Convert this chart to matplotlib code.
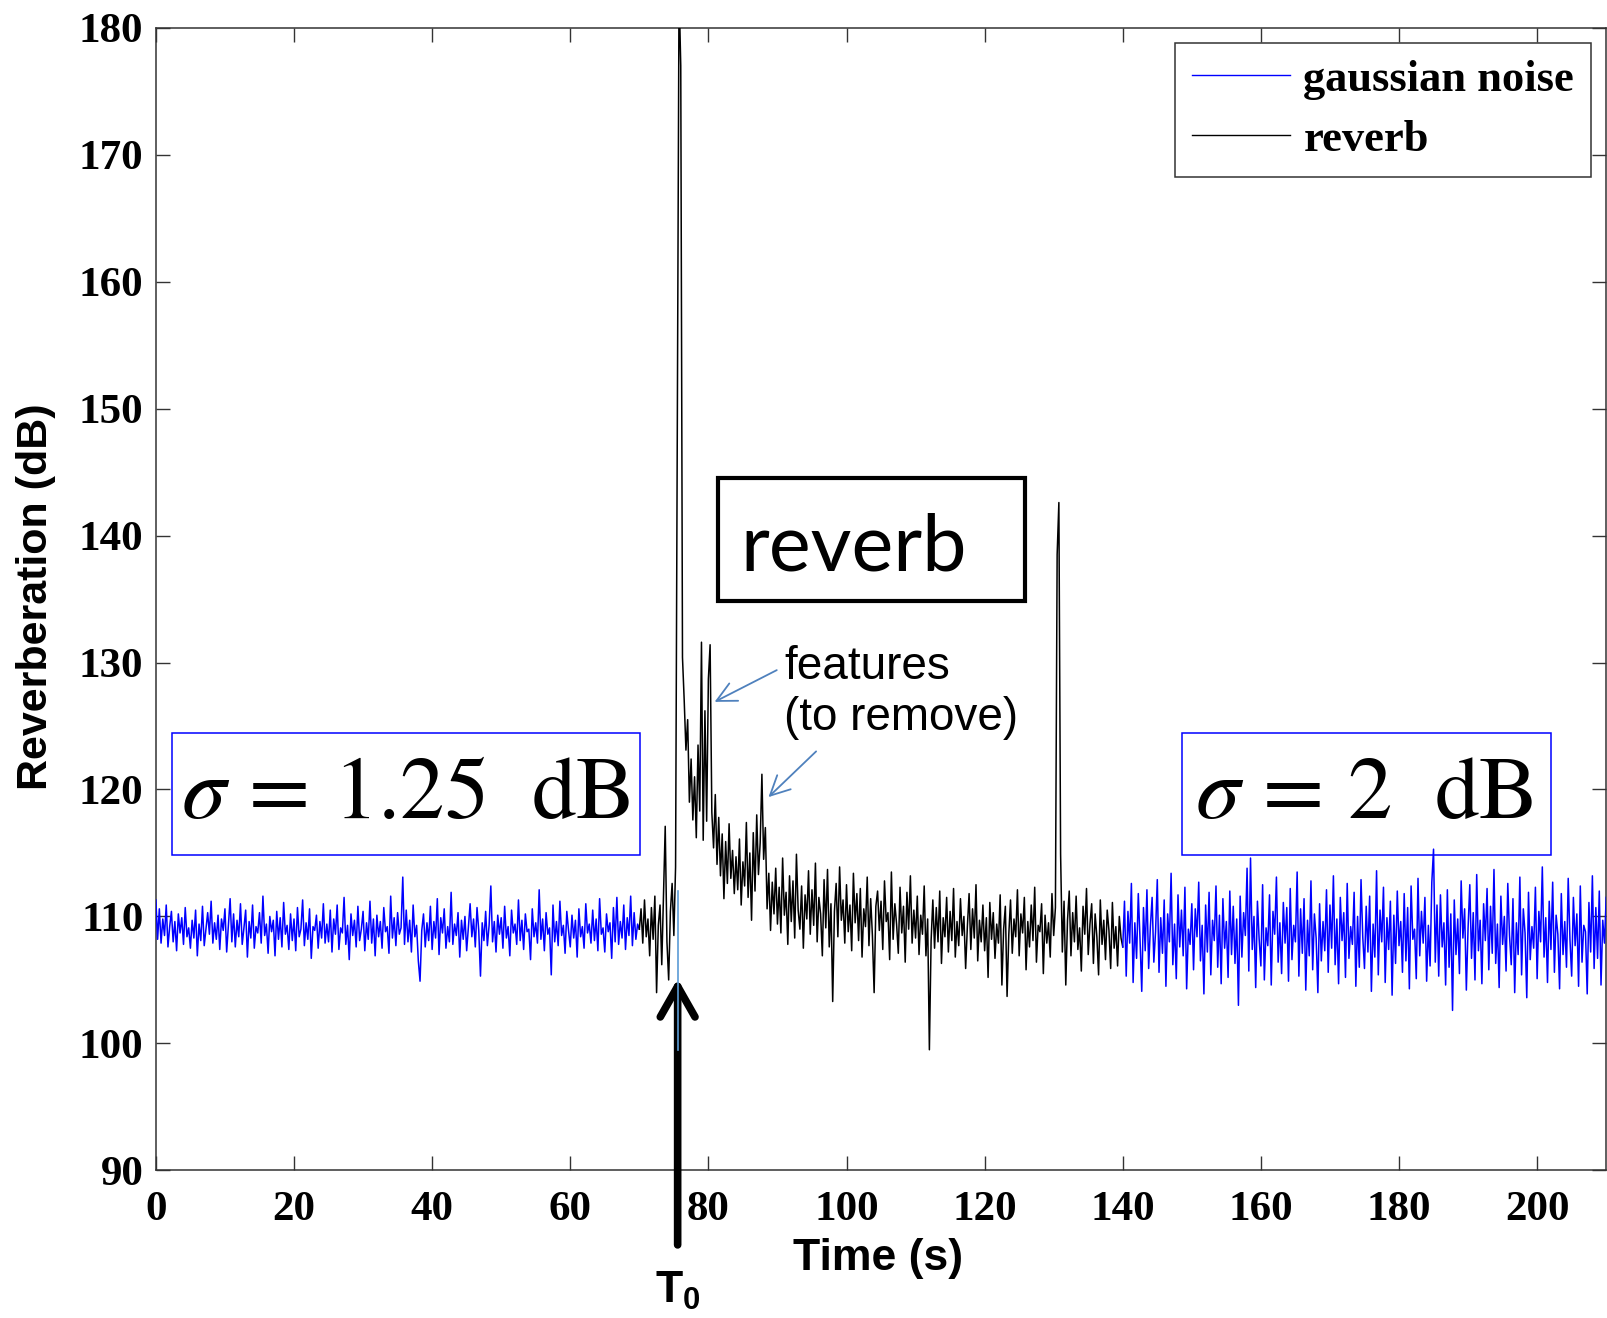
import numpy as np
import matplotlib
matplotlib.use('Agg')
import matplotlib.pyplot as plt
from matplotlib.patches import Rectangle

plt.rcParams['font.family'] = 'Liberation Serif'
plt.rcParams['mathtext.fontset'] = 'custom'
plt.rcParams['mathtext.rm'] = 'Liberation Sans'
plt.rcParams['mathtext.bf'] = 'Liberation Sans:bold'

# sampling step of the traces (s) and segment start times
step = 0.25
start_left = 0.0
start_reverb = 70.0
start_right = 140.0
t0 = 75.55

# gaussian noise before the reverb (sigma ~1.25 dB)
noise_left = [
    111.3, 108.2, 110.6, 107.9, 109.8, 108.5, 110.9, 107.6, 109.2, 110.4, 108.0, 109.6, 107.3, 110.2, 108.7, 109.9, 107.8, 110.7, 108.4, 109.1,
    107.5, 109.7, 108.3, 110.5, 106.9, 109.4, 108.1, 110.8, 107.7, 109.0, 110.3, 108.6, 111.2, 107.9, 109.5, 108.2, 110.1, 107.4, 109.8, 108.9,
    110.6, 107.2, 109.3, 111.4, 108.0, 110.2, 107.6, 109.7, 108.4, 111.0, 107.8, 109.1, 110.5, 106.8, 109.6, 108.3, 110.9, 107.5, 109.2, 108.7,
    110.3, 107.9, 111.6, 108.5, 109.4, 107.1, 110.0, 108.8, 109.7, 106.9, 110.4, 108.2, 109.9, 107.6, 111.1, 108.6, 109.3, 107.4, 110.2, 108.1,
    109.8, 107.3, 110.7, 108.4, 109.0, 111.3, 107.7, 109.5, 108.2, 110.6, 106.7, 109.2, 108.9, 110.1, 107.5, 109.6, 108.3, 111.0, 107.9, 109.4,
    108.0, 110.5, 107.2, 109.8, 108.6, 110.9, 107.4, 109.1, 108.7, 111.5, 107.8, 109.3, 106.6, 110.2, 108.5, 109.7, 107.6, 110.8, 108.1, 109.0,
    110.4, 107.3, 109.5, 108.2, 111.2, 107.9, 109.8, 106.9, 110.1, 108.4, 109.6, 107.5, 110.7, 108.8, 109.2, 107.1, 111.6, 108.3, 109.9, 107.7,
    110.3, 108.6, 109.1, 113.1, 107.8, 110.5, 108.0, 109.7, 107.2, 110.9, 108.4, 109.3, 106.5, 104.9, 108.9, 110.2, 107.6, 109.5, 108.1, 110.8,
    107.4, 109.6, 108.3, 111.4, 107.0, 109.9, 108.7, 110.6, 107.5, 109.2, 108.0, 111.9, 107.8, 109.4, 108.5, 110.3, 106.8, 109.7, 108.2, 110.0,
    107.3, 109.1, 111.0, 108.4, 109.8, 107.6, 110.7, 108.9, 105.3, 109.5, 108.1, 110.4, 107.7, 109.3, 112.4, 108.0, 109.6, 107.2, 110.1, 108.6,
    109.9, 107.5, 110.8, 108.3, 109.2, 106.9, 110.5, 108.7, 109.4, 107.8, 111.3, 108.1, 109.7, 107.4, 110.2, 108.8, 109.0, 106.6, 110.6, 108.4,
    109.5, 107.9, 112.1, 108.2, 109.8, 107.3, 110.3, 108.6, 109.1, 105.4, 110.9, 108.0, 109.6, 107.7, 111.2, 108.5, 109.3, 107.1, 110.4, 108.9,
    107.6, 110.1, 108.3, 109.7, 106.8, 110.6, 108.4, 109.2, 107.5, 111.0, 108.7, 109.4, 107.9, 110.5, 108.1, 109.8, 107.3, 111.4, 108.6, 109.1,
    107.2, 110.2, 108.8, 109.5, 106.7, 110.7, 108.0, 111.5, 107.8, 109.6, 108.3, 110.9, 107.4, 109.9, 108.5, 111.6, 107.7, 110.3, 108.2, 109.4,
    109.0,
]

# measured reverb, 70 s to 140 s
reverb = [
    109.0, 110.6, 107.9, 111.3, 108.4, 109.8, 106.9, 110.7, 108.2, 111.6, 104.0, 109.3, 110.9, 106.2, 111.8, 117.1, 108.0, 105.0, 110.4, 112.6,
    108.5, 113.9, 149.5, 183.0, 177.0, 130.4, 127.0, 123.1, 125.5, 119.0, 122.4, 117.6, 121.0, 116.2, 123.5, 118.3, 131.6, 116.0, 126.2, 117.5,
    128.7, 131.4, 118.2, 115.4, 119.6, 114.1, 117.8, 113.2, 116.5, 111.4, 115.9, 112.6, 117.3, 113.0, 115.2, 111.8, 114.7, 112.1, 116.1, 110.9,
    114.3, 112.4, 117.4, 111.5, 115.0, 109.7, 116.6, 112.0, 118.0, 113.3, 115.8, 121.2, 114.5, 117.0, 110.6, 113.4, 108.9, 112.7, 110.2, 113.8,
    109.4, 112.3, 108.7, 114.6, 110.1, 111.9, 107.8, 113.2, 109.6, 112.8, 108.3, 114.9, 110.5, 109.0, 112.4, 107.5, 111.7, 109.8, 113.6, 108.6,
    112.1, 109.3, 114.2, 108.0, 111.5, 110.2, 106.9, 112.9, 109.1, 113.7, 107.6, 111.0, 103.3, 110.4, 112.6, 108.4, 113.9, 109.7, 111.3, 107.9,
    112.5, 108.8, 110.9, 107.3, 113.4, 109.5, 111.8, 108.1, 112.2, 106.8, 110.6, 109.2, 113.1, 107.7, 111.4, 108.5, 104.0, 110.8, 112.0, 108.9,
    111.2, 107.4, 112.8, 109.6, 110.3, 106.6, 113.5, 108.2, 111.0, 109.4, 107.1, 112.3, 108.7, 110.8, 106.4, 111.9, 109.0, 113.2, 107.9, 110.5,
    108.3, 111.6, 107.0, 110.1, 108.6, 112.4, 106.9, 109.8, 99.5, 108.1, 111.3, 107.5, 110.7, 108.0, 112.0, 106.3, 109.9, 108.4, 111.5, 107.2,
    110.4, 108.1, 112.2, 106.8, 109.6, 107.7, 111.4, 108.5, 110.0, 105.9, 109.2, 111.8, 107.4, 110.6, 108.3, 112.5, 106.5, 109.7, 108.0, 110.9,
    107.3, 109.9, 105.2, 111.1, 108.2, 110.3, 106.7, 109.4, 107.9, 111.7, 104.6, 109.0, 110.8, 103.7, 108.6, 111.3, 107.1, 109.8, 108.4, 112.1,
    106.9, 110.2, 108.7, 111.5, 105.8, 109.6, 107.6, 110.9, 108.1, 112.3, 106.4, 109.3, 108.8, 111.0, 105.5, 110.1, 107.9, 109.5, 106.8, 111.8,
    108.5, 110.7, 138.5, 142.6, 114.9, 107.2, 111.2, 104.6, 109.7, 112.0, 106.9, 110.3, 108.0, 111.6, 107.4, 109.1, 105.7, 110.8, 108.6, 112.2,
    107.0, 109.4, 111.0, 106.3, 110.2, 108.4, 105.4, 111.3, 107.8, 109.7, 106.6, 110.5, 108.9, 105.9, 111.1, 107.5, 109.2, 106.1, 110.0, 108.3,
    107.6,
]

# gaussian noise after the reverb (sigma ~2 dB)
noise_right = [
    107.6, 111.2, 105.3, 110.4, 107.9, 112.6, 104.8, 109.5, 106.7, 111.8, 108.2, 104.1, 110.7, 107.3, 112.1, 105.9, 109.2, 111.5, 106.4, 108.8,
    112.9, 105.6, 109.9, 107.1, 111.3, 104.5, 110.2, 108.0, 113.4, 106.2, 109.4, 105.1, 111.7, 107.6, 110.5, 106.9, 112.3, 104.3, 109.0, 107.8,
    111.0, 105.8, 110.6, 108.4, 112.7, 106.5, 109.3, 103.9, 110.9, 107.2, 111.9, 105.4, 109.7, 108.1, 112.4, 106.0, 110.1, 104.7, 111.4, 107.5,
    109.6, 105.2, 112.0, 107.0, 110.8, 106.3, 109.8, 103.0, 111.6, 106.8, 110.3, 108.5, 113.8, 105.7, 114.6, 107.4, 110.0, 104.4, 111.2, 108.2,
    106.1, 112.5, 105.0, 109.1, 107.7, 111.7, 104.6, 110.4, 108.6, 113.1, 106.4, 109.5, 105.5, 111.1, 107.9, 110.7, 104.9, 112.2, 106.6, 109.3,
    108.0, 113.5, 105.3, 110.6, 107.1, 111.4, 104.2, 109.7, 106.9, 112.8, 105.8, 110.2, 108.3, 104.0, 111.0, 106.5, 109.6, 107.3, 112.1, 105.6,
    110.9, 107.5, 113.2, 106.2, 109.8, 104.7, 111.5, 108.1, 110.3, 105.2, 112.6, 106.7, 109.2, 107.8, 111.9, 104.5, 110.0, 106.0, 112.9, 108.4,
    105.9, 110.8, 107.2, 111.6, 104.1, 109.4, 106.8, 113.6, 105.4, 110.5, 108.0, 112.3, 104.8, 109.9, 107.4, 111.2, 103.8, 110.1, 106.3, 112.0,
    107.7, 109.6, 105.6, 111.8, 106.5, 110.7, 104.3, 112.4, 108.2, 109.0, 105.1, 113.0, 106.9, 110.4, 107.9, 111.5, 104.9, 109.3, 106.1, 112.7,
    115.3, 106.4, 110.9, 105.3, 111.7, 107.6, 109.5, 104.6, 112.1, 106.0, 110.2, 102.6, 111.3, 107.0, 109.8, 105.5, 112.8, 108.3, 110.6, 104.2,
    109.1, 112.5, 106.7, 110.3, 105.0, 113.3, 107.3, 109.7, 104.7, 111.0, 108.1, 112.2, 105.8, 110.8, 107.1, 113.7, 106.3, 109.4, 104.4, 111.6,
    107.8, 110.0, 105.7, 112.6, 108.5, 106.2, 111.4, 104.0, 109.5, 107.0, 113.1, 105.4, 110.6, 108.7, 103.6, 111.9, 106.6, 109.2, 107.5, 112.3,
    105.1, 110.4, 108.0, 113.9, 106.8, 109.9, 104.8, 111.2, 107.4, 112.7, 105.6, 110.1, 108.6, 104.3, 111.8, 107.0, 109.6, 106.0, 113.0, 108.2,
    105.3, 111.5, 107.7, 110.2, 104.5, 112.4, 106.4, 109.3, 108.8, 103.9, 111.1, 107.2, 113.2, 105.9, 110.7, 106.7, 112.0, 104.6, 109.7, 107.9,
    111.5,
]

t_left = start_left + np.arange(len(noise_left)) * step
t_rev = start_reverb + np.arange(len(reverb)) * step
t_right = start_right + np.arange(len(noise_right)) * step

fig = plt.figure(figsize=(16.07, 13.18), dpi=100)
ax = fig.add_axes([0.097, 0.112, 0.9025, 0.867])

ax.plot(t_left, noise_left, color='blue', lw=1.1, label='gaussian noise', zorder=3)
ax.plot(t_rev, reverb, color='black', lw=1.1, label='reverb', zorder=3)
ax.plot(t_right, noise_right, color='blue', lw=1.1, zorder=3)

ax.set_xlim(0, 210)
ax.set_ylim(90, 180)
ax.set_xticks(np.arange(0, 201, 20))
ax.set_yticks(np.arange(90, 181, 10))
ax.tick_params(direction='in', top=True, right=True, length=10, width=1,
               labelsize=31, color='#333333')
ax.tick_params(axis='x', pad=15)
ax.tick_params(axis='y', pad=9)
for lbl in ax.get_xticklabels() + ax.get_yticklabels():
    lbl.set_fontweight('bold')
for s in ax.spines.values():
    s.set_color('#333333')
    s.set_linewidth(1.1)

fig.text(36 / 1607, 1 - 597 / 1318, 'Reverberation (dB)', rotation=90,
         ha='center', va='center', family='Liberation Sans', weight='bold', size=31)
fig.text(0.5466, 0.0451, 'Time (s)', ha='center', va='center',
         family='Liberation Sans', weight='bold', size=32)

leg = ax.legend(loc='upper right', prop={'family': 'Liberation Serif', 'weight': 'bold', 'size': 32},
                fancybox=False, framealpha=1,
                borderaxespad=0.34, borderpad=0.38, labelspacing=0.45,
                handlelength=2.2, handletextpad=0.3)
leg.get_frame().set_edgecolor('#333333')
leg.get_frame().set_linewidth(1.1)
for h in leg.get_lines():
    h.set_linewidth(1.0)

# annotation boxes
def box(x0, y0, x1, y1, ec, lw):
    ax.add_patch(Rectangle((x0, y0), x1 - x0, y1 - y0, transform=ax.transAxes,
                           fc='white', ec=ec, lw=lw, zorder=1))

box(0.0112, 0.2761, 0.3339, 0.3828, 'blue', 1.1)
box(0.7074, 0.2761, 0.9619, 0.3828, 'blue', 1.1)
box(0.3873, 0.4987, 0.5993, 0.6063, 'black', 3.0)

ax.text(0.1722, 0.3085, r'$\sigma\,=\,1.25\ \ \mathrm{dB}$', transform=ax.transAxes,
        ha='center', va='baseline', fontsize=64, weight='normal',
        math_fontfamily='stix', zorder=2)
ax.text(0.8335, 0.3085, r'$\sigma\,=\,2\ \ \mathrm{dB}$', transform=ax.transAxes,
        ha='center', va='baseline', fontsize=64, weight='normal',
        math_fontfamily='stix', zorder=2)
ax.text(0.4029, 0.5247, 'reverb', transform=ax.transAxes, ha='left', va='baseline',
        family='Lato', weight='normal', fontsize=57, zorder=2)
ax.text(0.4332, 0.3855, 'features\n(to remove)', transform=ax.transAxes,
        ha='left', va='baseline', family='Liberation Sans', weight='normal',
        fontsize=33, linespacing=1.2, zorder=2)

arrow_blue = '#4F81BD'
ax.annotate('', xy=(80.9, 126.9), xytext=(89.9, 129.4),
            arrowprops=dict(arrowstyle='->,head_length=0.7,head_width=0.35',
                            color=arrow_blue, lw=1.3, mutation_scale=20,
                            shrinkA=0, shrinkB=0))
ax.annotate('', xy=(88.7, 119.4), xytext=(95.6, 123.0),
            arrowprops=dict(arrowstyle='->,head_length=0.7,head_width=0.35',
                            color=arrow_blue, lw=1.3, mutation_scale=20,
                            shrinkA=0, shrinkB=0))

# T0 marker
ax.annotate('', xy=(t0, 105.1), xytext=(t0, 84.13), annotation_clip=False,
            arrowprops=dict(arrowstyle='->,head_length=0.44,head_width=0.25',
                            color='black', lw=5.5, mutation_scale=50,
                            shrinkA=0, shrinkB=0), zorder=4)
ax.plot([t0, t0], [112.0, 99.5], color='#5B9BD5', lw=1.2, zorder=5)
ax.text(t0, 82.16, r'$\mathbf{T_0}$', ha='center', va='top', fontsize=32, clip_on=False)

fig.savefig('out.png', dpi=100)
